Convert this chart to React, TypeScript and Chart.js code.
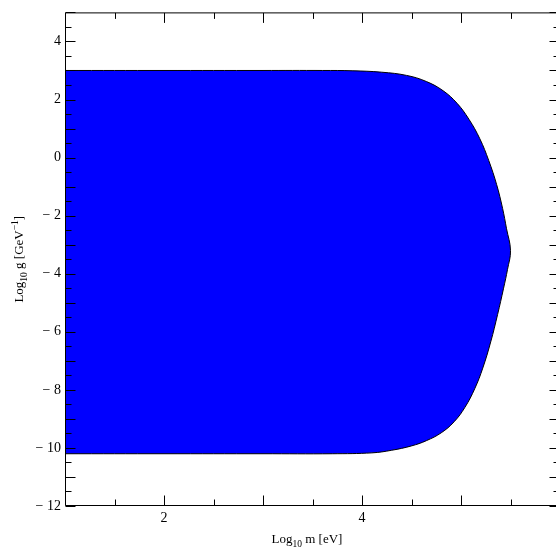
import React, { useEffect, useRef } from 'react';
import { Chart, registerables } from 'chart.js';

Chart.register(...registerables);

// Upper boundary of the excluded region (left to tip)
const upperX = [1, 2.0, 3.0, 3.6, 3.9, 4.2, 4.45, 4.65, 4.82, 4.96, 5.08, 5.19, 5.28, 5.36, 5.42, 5.46, 5.5];
const upperY = [3.0, 3.0, 3.0, 3.0, 2.99, 2.94, 2.83, 2.62, 2.3, 1.87, 1.32, 0.65, -0.1, -0.93, -1.75, -2.45, -3.2];
// Lower boundary (from tip back to the left)
const lowerX = [5.47, 5.43, 5.37, 5.3, 5.22, 5.14, 5.04, 4.93, 4.8, 4.65, 4.5, 4.3, 4.1, 3.7, 3.0, 2.0, 1];
const lowerY = [-3.85, -4.5, -5.4, -6.35, -7.25, -7.95, -8.6, -9.1, -9.48, -9.75, -9.93, -10.08, -10.17, -10.2, -10.2, -10.2, -10.2];

const xMin = 1;
const xMax = 6;
const yMin = -12;
const yMax = 5;
const xLabelValues = [2, 4];
const yLabelValues = [-12, -10, -8, -6, -4, -2, 0, 2, 4];

const FONT = 'Liberation Serif, Times New Roman, serif';

type Part = { t: string; s: number; dy: number };

function drawRich(ctx: CanvasRenderingContext2D, parts: Part[], cx: number, baseline: number) {
  let total = 0;
  const widths = parts.map((p) => {
    ctx.font = `${p.s}px ${FONT}`;
    const w = ctx.measureText(p.t).width;
    total += w;
    return w;
  });
  let x = cx - total / 2;
  ctx.textAlign = 'left';
  ctx.textBaseline = 'alphabetic';
  parts.forEach((p, i) => {
    ctx.font = `${p.s}px ${FONT}`;
    ctx.fillText(p.t, x, baseline + p.dy);
    x += widths[i];
  });
}

const frameTicks = {
  id: 'frameTicks',
  afterDatasetsDraw(chart: any) {
    const { ctx, chartArea: a, scales } = chart;
    const xs = scales.x;
    const ys = scales.y;
    ctx.save();
    ctx.strokeStyle = '#000';
    ctx.lineWidth = 1;
    const L = a.left + 0.5;
    const R = a.right - 0.5;
    const T = a.top + 0.5;
    const B = a.bottom - 0.5;
    ctx.beginPath();
    ctx.moveTo(L, T);
    ctx.lineTo(R, T);
    ctx.lineTo(R, B);
    ctx.lineTo(L, B);
    ctx.closePath();
    ctx.stroke();
    ctx.beginPath();
    for (let v = xMin; v <= xMax + 1e-9; v += 0.5) {
      const major = Math.abs(v - Math.round(v)) < 1e-6;
      const len = major ? 10 : 6;
      const px = Math.round(xs.getPixelForValue(v)) + 0.5;
      ctx.moveTo(px, B);
      ctx.lineTo(px, B - len);
      ctx.moveTo(px, T);
      ctx.lineTo(px, T + len);
    }
    for (let v = yMin; v <= yMax + 1e-9; v += 0.5) {
      const major = Math.abs(v - Math.round(v)) < 1e-6;
      const len = major ? 10 : 6;
      const py = Math.round(ys.getPixelForValue(v)) + 0.5;
      ctx.moveTo(L, py);
      ctx.lineTo(L + len, py);
      ctx.moveTo(R, py);
      ctx.lineTo(R - len, py);
    }
    ctx.stroke();
    ctx.restore();
  },
  afterDraw(chart: any) {
    const { ctx, chartArea: a } = chart;
    ctx.save();
    ctx.fillStyle = '#000';
    drawRich(
      ctx,
      [
        { t: 'Log', s: 13, dy: 0 },
        { t: '10', s: 9.5, dy: 3.5 },
        { t: ' m [eV]', s: 13, dy: 0 },
      ],
      307,
      543
    );
    ctx.translate(23, (a.top + a.bottom) / 2);
    ctx.rotate(-Math.PI / 2);
    drawRich(
      ctx,
      [
        { t: 'Log', s: 13, dy: 0 },
        { t: '10', s: 9.5, dy: 3.5 },
        { t: ' g [GeV', s: 13, dy: 0 },
        { t: '\u22121', s: 9.5, dy: -5 },
        { t: ']', s: 13, dy: 0 },
      ],
      0,
      0
    );
    ctx.restore();
  },
};

function fmt(v: number): string {
  return v < 0 ? '\u2212 ' + Math.abs(v) : String(v);
}

export default function App() {
  const ref = useRef<HTMLCanvasElement | null>(null);
  useEffect(() => {
    if (!ref.current) return;
    const pts = [
      ...upperX.map((x, i) => ({ x, y: upperY[i] })),
      ...lowerX.map((x, i) => ({ x, y: lowerY[i] })),
    ];
    const chart = new Chart(ref.current, {
      type: 'line',
      data: {
        datasets: [
          {
            data: pts,
            fill: 'shape',
            backgroundColor: '#0000ff',
            borderColor: '#000000',
            borderWidth: 1,
            pointRadius: 0,
            tension: 0.4,
          } as any,
        ],
      },
      options: {
        animation: false,
        responsive: false,
        devicePixelRatio: 1,
        layout: { padding: { left: 0, top: 11, right: 10, bottom: 0 } },
        plugins: { legend: { display: false }, tooltip: { enabled: false } },
        scales: {
          x: {
            type: 'linear',
            min: xMin,
            max: xMax,
            grid: { display: false, drawTicks: false },
            border: { display: false },
            afterFit: (s: any) => {
              s.height = 41;
            },
            afterBuildTicks: (s: any) => {
              s.ticks = xLabelValues.map((v) => ({ value: v }));
            },
            ticks: {
              autoSkip: false,
              maxRotation: 0,
              padding: 4,
              color: '#000',
              font: { family: FONT, size: 14 },
              callback: (v: any) => fmt(Number(v)),
            },
          },
          y: {
            type: 'linear',
            min: yMin,
            max: yMax,
            grid: { display: false, drawTicks: false },
            border: { display: false },
            afterFit: (s: any) => {
              s.width = 65;
            },
            afterBuildTicks: (s: any) => {
              s.ticks = yLabelValues.map((v) => ({ value: v }));
            },
            ticks: {
              autoSkip: false,
              padding: 4,
              color: '#000',
              font: { family: FONT, size: 14 },
              callback: (v: any) => fmt(Number(v)),
            },
          },
        },
      },
      plugins: [frameTicks],
    });
    return () => chart.destroy();
  }, []);
  return (
    <div
      style={{
        position: 'fixed',
        left: 0,
        top: 0,
        width: 556,
        height: 547,
        overflow: 'hidden',
        background: '#fff',
      }}
    >
      <canvas ref={ref} width={570} height={547} style={{ width: 570, height: 547, display: 'block' }} />
    </div>
  );
}
